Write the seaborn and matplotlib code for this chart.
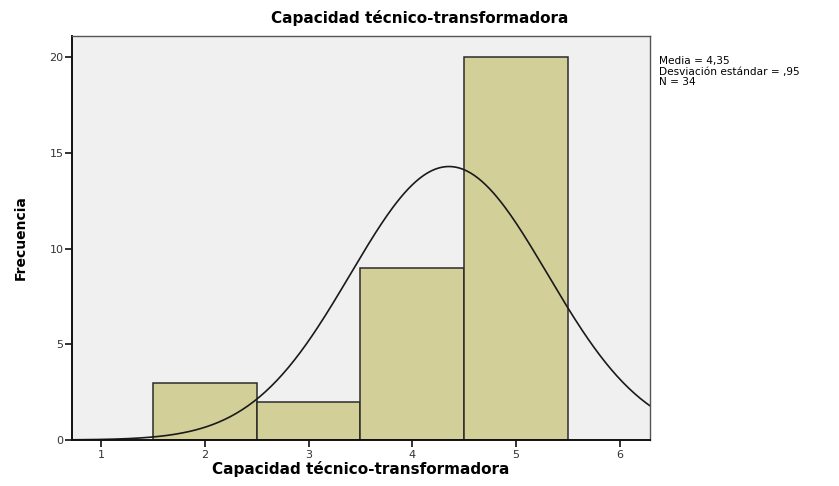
import matplotlib
matplotlib.use('Agg')
import matplotlib.pyplot as plt
import seaborn as sns
import pandas as pd
import numpy as np

puntajes = [2, 3, 4, 5]
frecuencias = [3, 2, 9, 20]
bordes = [1.5, 2.5, 3.5, 4.5, 5.5]
xticks = [1, 2, 3, 4, 5, 6]
yticks = [0, 5, 10, 15, 20]
titulo = 'Capacidad técnico-transformadora'

sns.set_style('ticks')
plt.rcParams['font.family'] = ['DejaVu Sans']
plt.rcParams['text.color'] = 'black'
plt.rcParams['axes.labelcolor'] = 'black'

df = pd.DataFrame({'valor': np.repeat(puntajes, frecuencias)})
n = len(df)
media = df['valor'].mean()
desv = df['valor'].std()

fig = plt.figure(figsize=(8.39, 4.86), dpi=100)
ax = fig.add_axes([0.0858, 0.0947, 0.6889, 0.8313])
ax.set_facecolor('#F0F0F0')

sns.histplot(data=df, x='valor', bins=bordes, ax=ax, color='#D3CF98',
             edgecolor='#2b2b2b', linewidth=1.1, alpha=1)

# curva normal ajustada (escalada a frecuencias, ancho de clase 1)
xs = np.linspace(0.72, 6.29, 300)
ys = n * 1.0 / (desv * np.sqrt(2 * np.pi)) * np.exp(-0.5 * ((xs - media) / desv) ** 2)
sns.lineplot(x=xs, y=ys, ax=ax, color='#1a1a1a', linewidth=1.2)

ax.set_xlim(0.72, 6.29)
ax.set_ylim(0, 21.1)
ax.set_xticks(xticks)
ax.set_yticks(yticks)
ax.tick_params(axis='both', direction='out', length=5, width=1.3,
               color='#222222', labelsize=8, labelcolor='#333333')
ax.tick_params(axis='y', pad=1)
ax.tick_params(axis='x', pad=2)

for side in ['left', 'bottom']:
    ax.spines[side].set_color('#111111')
    ax.spines[side].set_linewidth(1.4)
for side in ['top', 'right']:
    ax.spines[side].set_visible(True)
    ax.spines[side].set_color('#555555')
    ax.spines[side].set_linewidth(1.0)

ax.set_xlabel(titulo, fontsize=11, fontweight='bold', labelpad=1)
ax.set_ylabel('Frecuencia', fontsize=10, fontweight='bold', labelpad=16)
fig.text(0.5, 0.962, titulo, ha='center', va='center', fontsize=11, fontweight='bold')

fig.text(0.786, 0.884,
         f'Media = {media:.2f}'.replace('.', ',') + '\n'
         + f'Desviación estándar = {desv:.2f}'.replace('0.', ',') + '\n'
         + f'N = {n}',
         ha='left', va='top', fontsize=7.6, linespacing=1.02, color='black')

fig.savefig('out.png', dpi=100)
